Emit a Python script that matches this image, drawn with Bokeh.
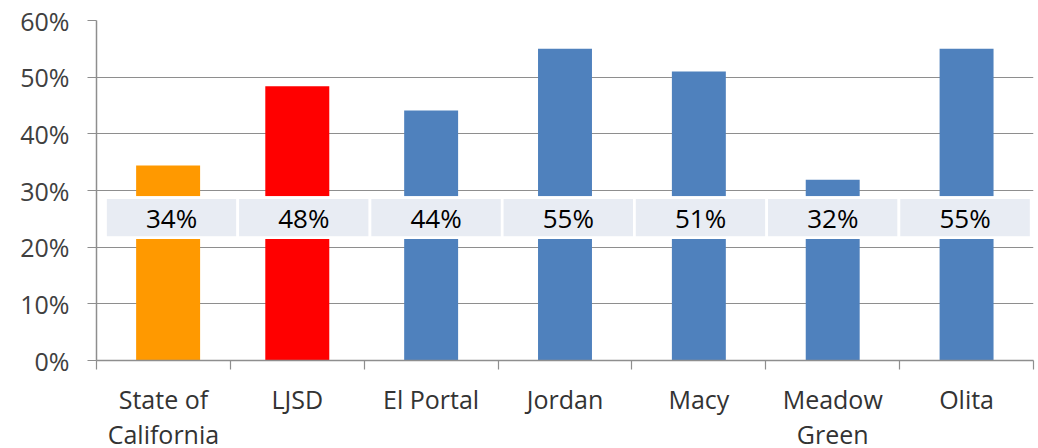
from bokeh.plotting import figure
from bokeh.models import (ColumnDataSource, FixedTicker, NumeralTickFormatter, Range1d)
from bokeh.core.properties import value
from bokeh.embed import file_html
from bokeh.resources import INLINE

# ---- data ----
categories = ["State of\nCalifornia", "LJSD", "El Portal", "Jordan", "Macy", "Meadow\nGreen", "Olita"]
values = [34.4, 48.4, 44.1, 55.0, 51.0, 31.9, 55.0]
labels = ["34%", "48%", "44%", "55%", "51%", "32%", "55%"]
kinds = ["state", "district", "school", "school", "school", "school", "school"]

# ---- styles ----
kind_color = {"state": "#FF9900", "district": "#FF0000", "school": "#4F81BD"}
kind_width = {"state": 0.478, "district": 0.478, "school": 0.403}
kind_shift = {"state": 0.035, "district": 0.0, "school": 0.0}
FONT = "Open Sans"
GREY = "#8E8E8E"

n = len(categories)
xs = [i + 0.5 for i in range(n)]
bars = ColumnDataSource(dict(
    x=[x + kind_shift[k] for x, k in zip(xs, kinds)],
    top=[v / 100 for v in values],
    w=[kind_width[k] for k in kinds],
    color=[kind_color[k] for k in kinds],
))

# label band layout (in data units)
slot = 0.9879
band_left = 0.0672
box_x = [band_left + (i + 0.5) * slot for i in range(n)]
boxes = ColumnDataSource(dict(x=box_x, label=labels))

p = figure(frame_width=937, frame_height=340, output_backend="svg", toolbar_location=None,
           x_range=Range1d(0, n), y_range=Range1d(0, 0.6),
           min_border_left=96, min_border_top=20, min_border_right=3, min_border_bottom=88)
p.outline_line_color = None
p.background_fill_color = "white"
p.border_fill_color = "white"

p.vbar(x="x", width="w", top="top", bottom=0, source=bars,
       fill_color="color", line_color=None)

# white band behind label boxes
p.quad(left=band_left, right=band_left + n * slot, bottom=0.2148, top=0.2900,
       fill_color="white", line_color=None)
p.rect(x="x", y=0.2523, width=slot, height=0.0706, source=boxes,
       fill_color="#E8ECF3", line_color="white", line_width=2.7)
p.text(x="x", y=0.2523, text="label", source=boxes, text_align="center",
       text_baseline="middle", text_font=value(FONT), text_font_size="26px",
       text_color="#000000")

# y axis
p.yaxis.ticker = FixedTicker(ticks=[0, 0.1, 0.2, 0.3, 0.4, 0.5, 0.6])
p.yaxis.formatter = NumeralTickFormatter(format="0%")
p.yaxis.axis_line_color = GREY
p.yaxis.axis_line_width = 1.5
p.yaxis.major_tick_line_color = GREY
p.yaxis.major_tick_line_width = 1.2
p.yaxis.major_tick_out = 9
p.yaxis.major_tick_in = 0
p.yaxis.minor_tick_line_color = None
p.yaxis.major_label_text_font = FONT
p.yaxis.major_label_text_font_size = "25px"
p.yaxis.major_label_text_color = "#404040"
p.yaxis.major_label_standoff = 18

p.ygrid.ticker = FixedTicker(ticks=[0.1, 0.2, 0.3, 0.4, 0.5, 0.6])
p.ygrid.grid_line_color = GREY
p.ygrid.grid_line_width = 1.2
p.xgrid.grid_line_color = None

# x axis: labels at centers, ticks at boundaries
p.xaxis.ticker = FixedTicker(ticks=xs, minor_ticks=list(range(n + 1)))
p.xaxis.major_label_overrides = {x: c for x, c in zip(xs, categories)}
p.xaxis.axis_line_color = GREY
p.xaxis.axis_line_width = 1.5
p.xaxis.major_tick_line_color = None
p.xaxis.major_tick_out = 0
p.xaxis.major_tick_in = 0
p.xaxis.minor_tick_line_color = GREY
p.xaxis.minor_tick_line_width = 1.2
p.xaxis.minor_tick_out = 9
p.xaxis.minor_tick_in = 0
p.xaxis.major_label_text_font = FONT
p.xaxis.major_label_text_font_size = "25px"
p.xaxis.major_label_text_color = "#333333"
p.xaxis.major_label_text_line_height = 1.05
p.xaxis.major_label_standoff = 12

open("out.html", "w").write(file_html(p, INLINE))
